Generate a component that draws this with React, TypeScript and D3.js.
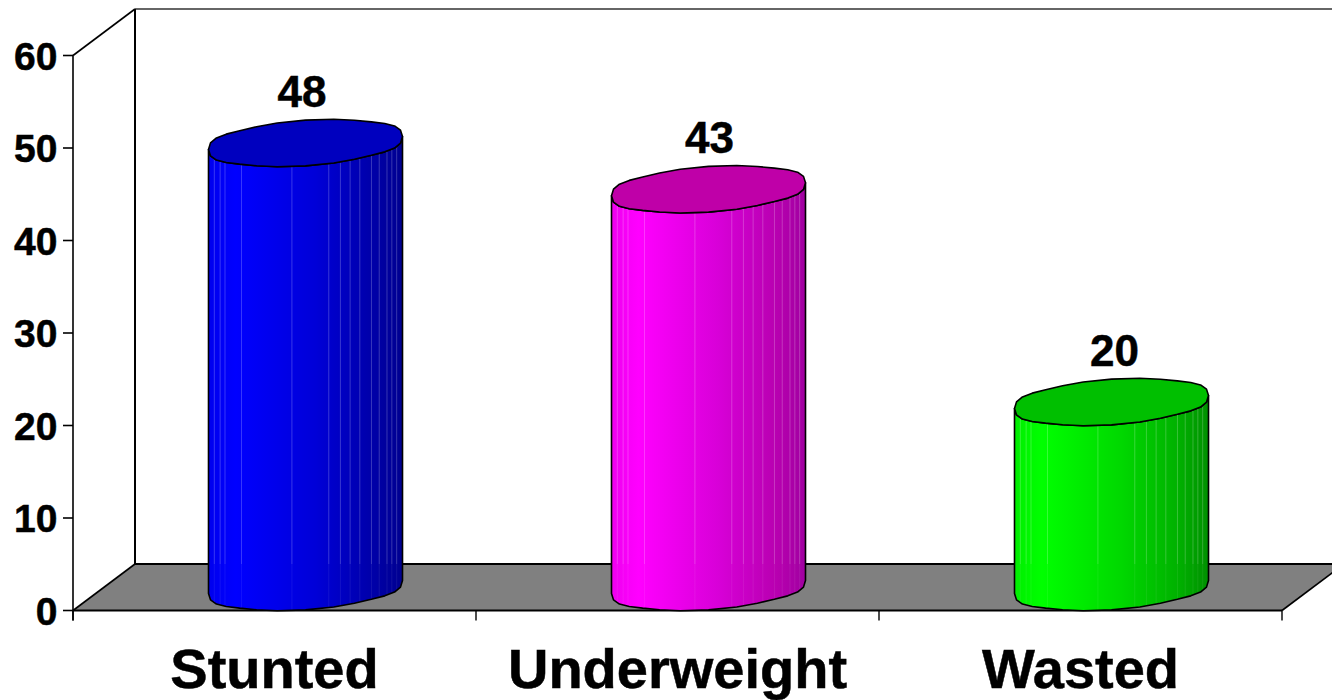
import React from "react";
import * as d3 from "d3";

// Prevalence by nutritional status, drawn as 3D cylinders on a perspective floor.
const categories = ["Stunted", "Underweight", "Wasted"];
const values = [48, 43, 20];
const yTicks = [0, 10, 20, 30, 40, 50, 60];
const sideStops = [
  ["#0000ee", "#0000ff", "#0000d8", "#0000a8", "#000090"],
  ["#ee00ee", "#ff00ff", "#d800d8", "#b800b0", "#a000a0"],
  ["#00ee00", "#00ff00", "#00d800", "#00b000", "#009000"],
];
const capColors = ["#0000bf", "#bf00a8", "#00bf00"];
const facetFractions = [0.03, 0.06, 0.085, 0.17, 0.43, 0.62, 0.68, 0.73, 0.78, 0.84, 0.88, 0.92, 0.945, 0.97];
const labelShift = [-3.5, 1, 3];

const width = 1332;
const height = 700;
const floorY = 610.5;
const topY = 55.5;
const depthX = 62;
const depthY = 46.5;
const axisX = 73;
const axisEnd = 1282;

const y = d3.scaleLinear().domain([0, 60]).range([floorY, topY]);
const x = d3.scaleBand().domain(categories).range([axisX, axisEnd]).paddingInner(0.5186).paddingOuter(0.2593);

// Rim of a cylinder: a sheared superellipse, faceted the way the column sides are.
function rimPoint(t: number, cx: number, cy: number, rx: number) {
  const c = Math.cos(t);
  const s = Math.sin(t);
  const ux = Math.sign(c) * Math.pow(Math.abs(c), 0.82);
  const uy = Math.sign(s) * Math.pow(Math.abs(s), 0.9);
  return [cx + rx * ux, cy + 22 * uy - 6.5 * ux + 0.9 * Math.sin(5 * t)] as [number, number];
}
const rimAngles = d3.range(0, 28).map((i) => (i / 28) * Math.PI * 2);
const poly = d3.line().curve(d3.curveLinear);

const App = () => {
  const font = "'Liberation Sans', Arial, sans-serif";
  const backX = axisX + depthX;
  const floorPts: [number, number][] = [
    [axisX, floorY],
    [backX, floorY - depthY],
    [axisEnd + depthX, floorY - depthY],
    [axisEnd, floorY],
  ];
  const heavy = { stroke: "#000", strokeWidth: 0.5 };
  return (
    <svg width={width} height={height} style={{ position: "absolute", left: 0, top: 0 }}>
      <defs>
        {sideStops.map((stops, i) => (
          <linearGradient key={i} id={`side${i}`} x1="0" x2="1" y1="0" y2="0">
            {stops.map((col, j) => (
              <stop key={j} offset={[0, 0.14, 0.55, 0.85, 1][j]} stopColor={col} />
            ))}
          </linearGradient>
        ))}
      </defs>
      <rect width={width} height={height} fill="#fff" />

      {/* Walls and floor */}
      <path d={poly(floorPts) + "Z"} fill="#808080" stroke="none" />
      <line x1={backX} x2={width} y1={topY - depthY} y2={topY - depthY} stroke="#333" strokeWidth={1.6} />
      <line x1={backX} x2={backX} y1={topY - depthY} y2={floorY - depthY} stroke="#000" strokeWidth={2} />
      <line x1={backX} x2={width} y1={floorY - depthY} y2={floorY - depthY} stroke="#000" strokeWidth={2} />
      <line x1={axisX} x2={backX} y1={floorY} y2={floorY - depthY} stroke="#000" strokeWidth={1.6} />
      <line x1={axisX} x2={backX} y1={topY} y2={topY - depthY} stroke="#000" strokeWidth={1.6} />
      <line x1={axisEnd} x2={axisEnd + depthX} y1={floorY} y2={floorY - depthY} stroke="#000" strokeWidth={1.6} />

      {/* Value axis */}
      <line x1={axisX} x2={axisX} y1={topY} y2={floorY + 10} stroke="#000" strokeWidth={1.6} />
      {yTicks.map((t) => (
        <g key={t}>
          <line x1={axisX - 10} x2={axisX} y1={y(t)} y2={y(t)} stroke="#000" strokeWidth={1.6} />
          <text x={57.5} y={y(t) + 14} textAnchor="end" fontFamily={font} fontWeight={700} fontSize={39} {...heavy}>
            {t}
          </text>
        </g>
      ))}

      {/* Category axis */}
      <line x1={axisX} x2={axisEnd} y1={floorY} y2={floorY} stroke="#000" strokeWidth={2} />
      {d3.range(categories.length + 1).map((i) => {
        const tx = axisX + x.step() * i;
        return <line key={i} x1={tx} x2={tx} y1={floorY} y2={floorY + 10} stroke="#000" strokeWidth={1.4} />;
      })}
      {categories.map((c) => (
        <text
          key={c}
          x={(x(c) as number) + x.bandwidth() / 2}
          y={688}
          textAnchor="middle"
          fontFamily={font}
          fontWeight={700}
          fontSize={56}
          {...heavy}
        >
          {c}
        </text>
      ))}

      {/* Cylinders */}
      {categories.map((c, i) => {
        const left = (x(c) as number) + depthX / 2;
        const rx = x.bandwidth() / 2;
        const cx = left + rx;
        const base = y(0) - depthY / 2 - 0.25;
        const top = base - (y(0) - y(values[i]));
        const rim = rimAngles.map((t) => rimPoint(t, cx, top, rx));
        const lower = rimAngles
          .filter((t) => t <= Math.PI)
          .map((t) => rimPoint(t, cx, top, rx));
        const frontBottom = rimAngles
          .filter((t) => t <= Math.PI)
          .map((t) => rimPoint(t, cx, base, rx));
        const side = [...lower, ...frontBottom.slice().reverse()];
        const edgeAt = (fx: number, cy: number) => {
          // Lower rim height at a horizontal fraction of the column.
          const px = left + fx * 2 * rx;
          const seg = frontBottom.slice().reverse();
          const k = d3.bisector((p: [number, number]) => p[0]).left(seg, px);
          const a = seg[Math.max(0, k - 1)];
          const b = seg[Math.min(seg.length - 1, k)];
          const f = b[0] === a[0] ? 0 : (px - a[0]) / (b[0] - a[0]);
          return a[1] + (b[1] - a[1]) * f + (cy - base);
        };
        const floorBack = floorY - depthY;
        return (
          <g key={c}>
            <path d={poly(side) + "Z"} fill={`url(#side${i})`} />
            {facetFractions.map((f) => {
              const fx = left + f * 2 * rx;
              const yTop = edgeAt(f, top);
              const yBot = edgeAt(f, base);
              return (
                <g key={f}>
                  <line x1={fx} x2={fx} y1={yTop} y2={floorBack} stroke="#fff" strokeOpacity={0.22} strokeWidth={1} />
                  <line x1={fx} x2={fx} y1={floorBack} y2={yBot} stroke="#fff" strokeOpacity={0.07} strokeWidth={1} />
                </g>
              );
            })}
            <path d={poly(side) + "Z"} fill="none" stroke="#000" strokeWidth={1.6} strokeLinejoin="round" />
            <path d={poly(rim) + "Z"} fill={capColors[i]} stroke="#000" strokeWidth={1.6} strokeLinejoin="round" />
            <text
              x={cx + labelShift[i]}
              y={top - 36}
              textAnchor="middle"
              fontFamily={font}
              fontWeight={700}
              fontSize={44}
              {...heavy}
            >
              {values[i]}
            </text>
          </g>
        );
      })}
    </svg>
  );
};

export default App;
